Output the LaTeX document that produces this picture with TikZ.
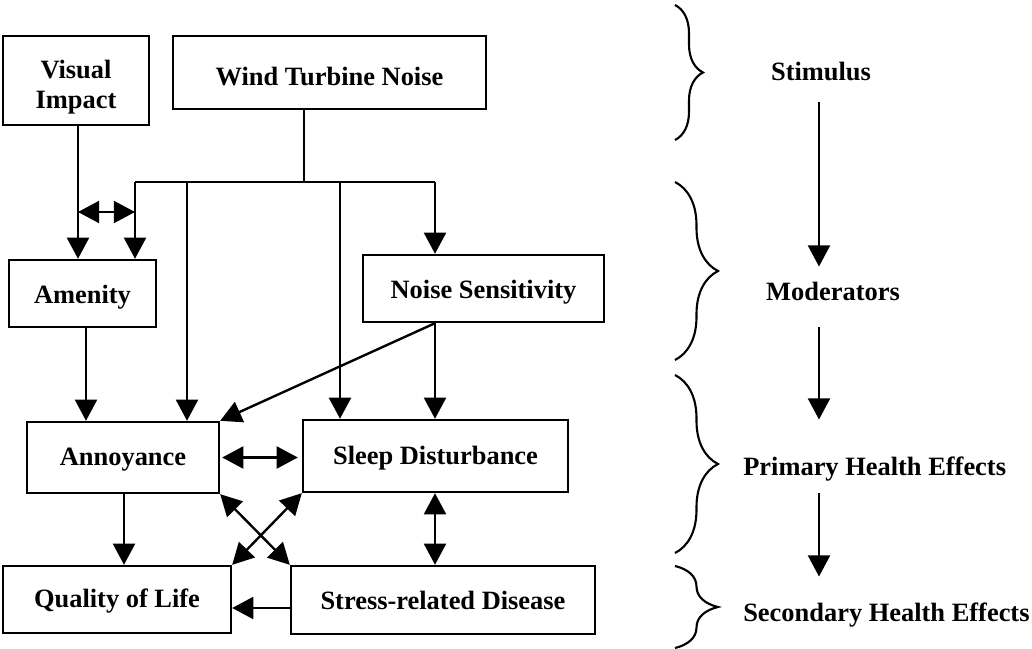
\documentclass[tikz,border=0pt]{standalone}
\usepackage{fontspec}
\setmainfont{Liberation Serif}
\usetikzlibrary{arrows.meta, decorations.pathreplacing}
\tikzstyle{arrow} = [line width=1.7pt,-{Triangle[length=0.53cm,width=0.55cm]}]
\tikzstyle{darrow} = [line width=1.7pt,{Triangle[length=0.53cm,width=0.55cm]}-{Triangle[length=0.53cm,width=0.55cm]}]

\begin{document}
\begin{tikzpicture}
        [
            box/.style={rectangle,draw=black,line width=1.7pt,inner sep=0pt,align=center,font=\bfseries\fontsize{18.8}{21.3}\selectfont},
            oneline/.style={text height=#1,text depth=0.14cm},
            oneline/.default=0.56cm,
            lbl/.style={inner sep=0pt,text height=0.46cm,text depth=0.14cm,font=\bfseries\fontsize{18.8}{21.3}\selectfont},
            curly/.style={decorate,decoration={brace,amplitude=#1},line width=1.5pt},
        ]
    \useasboundingbox (0,0) rectangle (25.8,-16.225);

    % boxes
    \node[box,text height=1.535cm,text depth=0.145cm,minimum width=3.65cm,minimum height=2.225cm] (vis) at (1.9,-2.0125) {Visual\\Impact};
    \node[box,oneline=0.81cm,minimum width=7.825cm,minimum height=1.825cm] (wtn) at (8.2375,-1.8125) {Wind Turbine Noise};
    \node[box,oneline=0.66cm,minimum width=3.675cm,minimum height=1.675cm] (amen) at (2.0625,-7.3375) {Amenity};
    \node[box,oneline=0.66cm,minimum width=6.025cm,minimum height=1.675cm] (nsens) at (12.0875,-7.2125) {Noise Sensitivity};
    \node[box,oneline,minimum width=4.8cm,minimum height=1.775cm] (anno) at (3.075,-11.4375) {Annoyance};
    \node[box,oneline,minimum width=6.625cm,minimum height=1.8cm] (sleep) at (10.8875,-11.4) {Sleep Disturbance};
    \node[box,oneline,minimum width=5.7cm,minimum height=1.675cm] (qol) at (2.925,-14.9875) {Quality of Life};
    \node[box,oneline=0.61cm,minimum width=7.6cm,minimum height=1.7cm] (stress) at (11.075,-15.0) {Stress-related Disease};

    % split of the noise line
    \coordinate (split) at (7.6,-4.55);
    \coordinate (spl) at (3.375,-4.55);
    \coordinate (spa) at (4.675,-4.55);
    \coordinate (sps) at (8.5,-4.55);
    \coordinate (spr) at (10.875,-4.55);
    \coordinate (visx) at (1.95,0);
    \coordinate (amenx) at (2.15,0);
    \coordinate (annox) at (3.1,0);
    \coordinate (twoy) at (0,-5.3);
    \coordinate (lasty) at (0,-15.2);

    \draw[line width=1.7pt] (wtn.south -| split) -- (split);
    \draw[line width=1.7pt] (spl) -- (spr);
    \draw[arrow] (spl) -- (amen.north -| spl);
    \draw[arrow] (spa) -- (anno.north -| spa);
    \draw[arrow] (sps) -- (sleep.north -| sps);
    \draw[arrow] (spr) -- (nsens.north -| spr);

    \draw[arrow] (vis.south -| visx) -- (amen.north -| visx);
    \draw[darrow] (visx |- twoy) -- (spl |- twoy);
    \draw[arrow] (amen.south -| amenx) -- (anno.north -| amenx);
    \draw[arrow] (nsens.south -| spr) -- (anno.north east);
    \draw[arrow] (nsens.south -| spr) -- (sleep.north -| spr);

    \draw[darrow,shorten <=0.05cm,shorten >=0.1cm] (anno.east) -- (anno.east -| sleep.west);
    \draw[arrow] (anno.south -| annox) -- (qol.north -| annox);
    \draw[darrow] (anno.south east) -- (stress.north west);
    \draw[darrow] (sleep.south west) -- (qol.north east);
    \draw[darrow] (sleep.south -| spr) -- (stress.north -| spr);
    \draw[arrow] (stress.west |- lasty) -- (qol.east |- lasty);

    % levels on the right
    \draw[curly=0.7cm] (16.875,-0.125) -- (16.875,-3.5);
    \draw[curly=1.075cm] (16.875,-4.55) -- (16.875,-9.0);
    \draw[curly=1.075cm] (16.875,-9.375) -- (16.875,-13.825);
    \draw[curly=1.075cm] (16.875,-14.15) -- (16.875,-16.2);

    \node[lbl,anchor=base] (stim) at (20.525,-2.025) {Stimulus};
    \node[lbl,anchor=base] (mods) at (20.825,-7.5) {Moderators};
    \node[lbl,anchor=base west] (prim) at (18.575,-11.875) {Primary Health Effects};
    \node[lbl,anchor=base west] (sec) at (18.575,-15.54) {Secondary Health Effects};

    \coordinate (stepx) at (20.475,0);
    \draw[arrow,shorten <=0.38cm,shorten >=0.37cm] (stim.south -| stepx) -- (mods.north -| stepx);
    \draw[arrow,shorten <=0.53cm,shorten >=0.92cm] (mods.south -| stepx) -- (prim.north -| stepx);
    \draw[arrow,shorten <=0.31cm,shorten >=0.66cm] (prim.south -| stepx) -- (sec.north -| stepx);
\end{tikzpicture}
\end{document}
